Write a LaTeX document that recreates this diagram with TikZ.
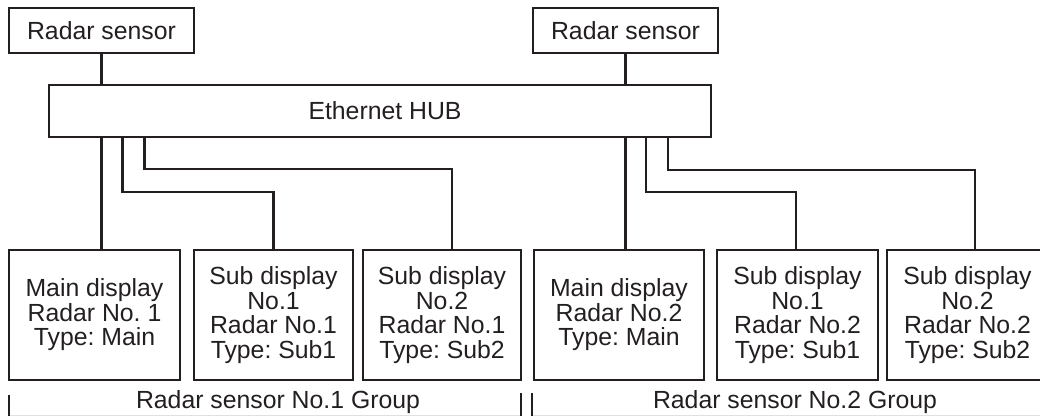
\documentclass[tikz,border=0pt]{standalone}
\usepackage{fontspec}
\setmainfont{Liberation Sans}
\frenchspacing
\definecolor{ink}{HTML}{231F20}
\begin{document}
\begin{tikzpicture}[x=1pt,y=-1pt,
  every node/.style={text=ink},
  box/.style={draw=ink,line width=2.4pt,inner sep=0pt,align=center,
    font=\fontsize{24.8}{24.5}\selectfont},
  disp/.style={box,minimum height=130pt},
  wire/.style={draw=ink,line width=2.4pt},
  tick/.style={draw=ink,line width=1.4pt},
  faint/.style={draw=black!12,line width=0.8pt},
  grp/.style={font=\fontsize{24.8}{24.5}\selectfont,inner sep=0pt}]
\useasboundingbox (0,0) rectangle (1040,416);
\clip (0,0) rectangle (1040,416);
% sensors and hub
\node[box,minimum width=185pt,minimum height=45pt] (s1) at (101.5,30.5) {Radar sensor};
\node[box,minimum width=185pt,minimum height=45pt] (s2) at (625.5,30.5) {Radar sensor};
\node[box,minimum width=662pt,minimum height=52pt] (hub) at (380,111) {};
\node[grp] (hubt) at (385,111) {Ethernet HUB};
% displays
\node[disp,minimum width=171pt] (b1) at (94.5,315) {Main display\\Radar No. 1\\Type: Main};
\node[disp,minimum width=159pt] (b2) at (273.5,315) {Sub display\\No.1\\Radar No.1\\Type: Sub1};
\node[disp,minimum width=158pt] (b3) at (442,315) {Sub display\\No.2\\Radar No.1\\Type: Sub2};
\node[disp,minimum width=170pt] (b4) at (619,315) {Main display\\Radar No.2\\Type: Main};
\node[disp,minimum width=161pt] (b5) at (797.5,315) {Sub display\\No.1\\Radar No.2\\Type: Sub1};
\node[disp,minimum width=161pt] (b6) at (967.5,315) {Sub display\\No.2\\Radar No.2\\Type: Sub2};
% hub ports
\coordinate (h1) at ([xshift=21pt]hub.south -| s1.south);
\coordinate (h2) at ([xshift=43pt]hub.south -| s1.south);
\coordinate (h4) at ([xshift=20.5pt]hub.south -| s2.south);
\coordinate (h5) at ([xshift=42.5pt]hub.south -| s2.south);
% connectors
\draw[wire] (s1.south) -- (hub.north -| s1.south);
\draw[wire] (s2.south) -- (hub.north -| s2.south);
\draw[wire] (hub.south -| s1.south) -- (b1.north -| s1.south);
\draw[wire] (h1) |- ([yshift=57pt]b2.north) -- (b2.north);
\draw[wire] (h2) |- ([xshift=10pt,yshift=80pt]b3.north) -- ([xshift=10pt]b3.north);
\draw[wire] (hub.south -| s2.south) -- (b4.north -| s2.south);
\draw[wire] (h4) |- ([xshift=-1.5pt,yshift=57pt]b5.north) -- ([xshift=-1.5pt]b5.north);
\draw[wire] (h5) |- ([xshift=7.5pt,yshift=79pt]b6.north) -- ([xshift=7.5pt]b6.north);
% groups
\node[grp] (g1) at (278,402) {Radar sensor No.1 Group};
\node[grp] (g2) at (795,402) {Radar sensor No.2 Group};
\coordinate (g1l) at (9,395);
\coordinate (g1r) at (521,393);
\coordinate (g2l) at (532,393);
\draw[tick] (g1l) -- (9,416);
\draw[tick] (g1r) -- (521,416);
\draw[tick] (g2l) -- (532,416);
\draw[faint] (10,415) -- (520,415);
\draw[faint] (533,415) -- (1040,415);
\end{tikzpicture}
\end{document}
